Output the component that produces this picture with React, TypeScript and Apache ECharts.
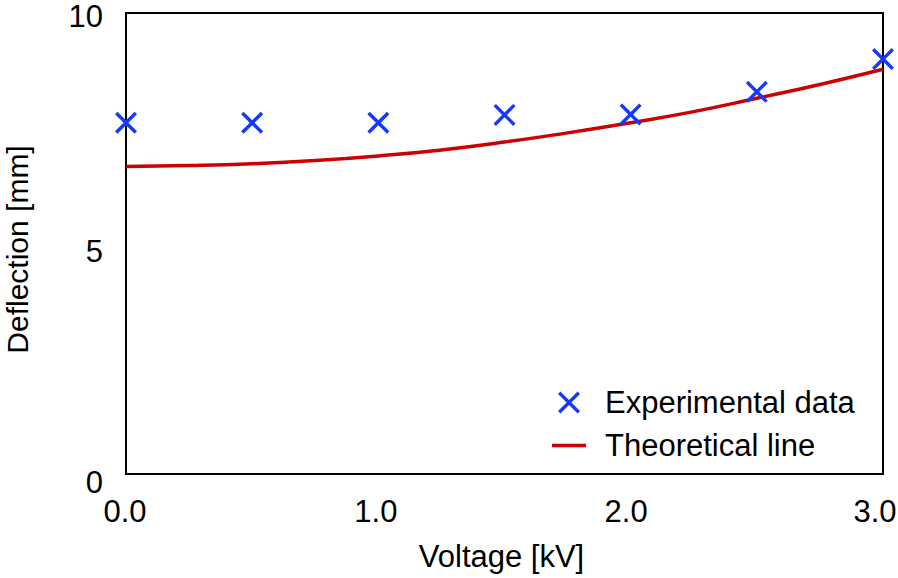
import React, { useEffect, useRef } from "react";
import * as echarts from "echarts";

const voltageExp = [0, 0.5, 1.0, 1.5, 2.0, 2.5, 3.0];
const deflectionExp = [7.62, 7.62, 7.62, 7.79, 7.8, 8.29, 9.0];

const voltageTheory = [0, 0.25, 0.5, 0.75, 1.0, 1.25, 1.5, 1.75, 2.0, 2.25, 2.5, 2.75, 3.0];
const deflectionTheory = [6.67, 6.69, 6.73, 6.8, 6.9, 7.03, 7.2, 7.4, 7.62, 7.86, 8.15, 8.45, 8.78];

const seriesNames = ["Experimental data", "Theoretical line"];
const xAxisTitle = "Voltage [kV]";
const yAxisTitle = "Deflection [mm]";

const FONT = "'Liberation Sans', Arial, Helvetica, sans-serif";
const BLUE = "#1438ff";
const RED = "#cc0000";
const CROSS =
  "path://M0,11L11,0L50,39L89,0L100,11L61,50L100,89L89,100L50,61L11,100L0,89L39,50Z";
const LINE_ICON = "path://M0,0H34V3.5H0Z";
const FS = 31;

export default function App() {
  const ref = useRef<HTMLDivElement>(null);

  useEffect(() => {
    if (!ref.current) return;
    const chart = echarts.init(ref.current, undefined, { renderer: "svg" });
    const expData = voltageExp.map((v, i) => [v, deflectionExp[i]]);
    const theoryData = voltageTheory.map((v, i) => [v, deflectionTheory[i]]);

    const tickText = { fontSize: FS, color: "#000", fontFamily: FONT };

    chart.setOption({
      animation: false,
      backgroundColor: "#ffffff",
      grid: {
        left: 126,
        top: 13,
        width: 757,
        height: 461,
        show: true,
        borderColor: "#000",
        borderWidth: 2,
        backgroundColor: "transparent",
        containLabel: false,
        outerBoundsMode: "none",
      },
      xAxis: {
        type: "value",
        min: 0,
        max: 3,
        interval: 1,
        name: xAxisTitle,
        nameLocation: "middle",
        nameGap: 67,
        nameTextStyle: { fontSize: FS, color: "#000", fontFamily: FONT, padding: [0, 6, 0, 0] },
        axisLine: { show: false },
        axisTick: { show: false },
        splitLine: { show: false },
        axisLabel: {
          ...tickText,
          margin: 22,
          formatter: (v: number) => `{x${Math.round(v)}|${v.toFixed(1)}}`,
          rich: {
            x0: { ...tickText, padding: [0, 2, 0, 0] },
            x1: { ...tickText, padding: [0, 5, 0, 0] },
            x2: { ...tickText, padding: [0, 9, 0, 0] },
            x3: { ...tickText, padding: [0, 16, 0, 0] },
          },
        },
      },
      yAxis: {
        type: "value",
        min: 0,
        max: 10,
        interval: 5,
        name: yAxisTitle,
        nameLocation: "middle",
        nameGap: 96,
        nameTextStyle: {
          fontSize: 30,
          lineHeight: 26,
          color: "#000",
          fontFamily: FONT,
          padding: [0, 12, 0, 0],
        },
        axisLine: { show: false },
        axisTick: { show: false },
        splitLine: { show: false },
        axisLabel: {
          ...tickText,
          margin: 23,
          verticalAlign: "top",
          formatter: (v: number) => `{y${Math.round(v)}|${v}}`,
          rich: {
            y0: { ...tickText, lineHeight: 17 },
            y5: { ...tickText, lineHeight: 15 },
            y10: { ...tickText, lineHeight: 6 },
          },
        },
      },
      legend: {
        orient: "vertical",
        left: 552,
        top: 387,
        padding: 0,
        itemGap: 12,
        itemWidth: 34,
        itemHeight: 22,
        selectedMode: false,
        textStyle: { fontSize: FS, color: "#000", fontFamily: FONT, padding: [0, 0, 0, 14] },
        data: [
          { name: seriesNames[0], icon: CROSS, itemStyle: { color: BLUE, borderWidth: 0, opacity: 1 } },
          { name: seriesNames[1], icon: LINE_ICON, itemStyle: { color: RED, borderWidth: 0, opacity: 1 } },
        ],
      },
      series: [
        {
          name: seriesNames[1],
          type: "line",
          data: theoryData,
          smooth: true,
          symbol: "none",
          showSymbol: false,
          lineStyle: { color: RED, width: 3.5 },
          itemStyle: { color: RED },
          z: 2,
        },
        {
          name: seriesNames[0],
          type: "scatter",
          data: expData,
          symbol: CROSS,
          symbolSize: 22,
          clip: false,
          itemStyle: { color: BLUE, opacity: 1 },
          z: 3,
        },
      ],
    });

    return () => chart.dispose();
  }, []);

  return (
    <div
      ref={ref}
      style={{ position: "absolute", left: 0, top: 0, width: 898, height: 578 }}
    />
  );
}
